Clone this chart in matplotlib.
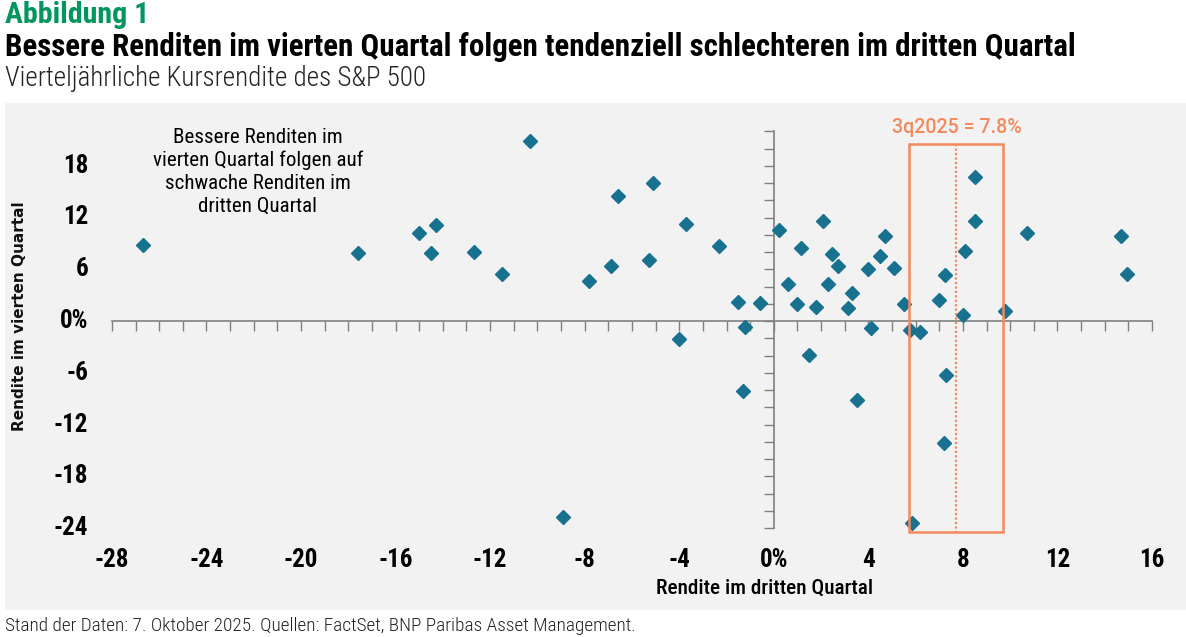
import matplotlib
matplotlib.use('Agg')
import matplotlib.pyplot as plt
from matplotlib.patches import Rectangle
from matplotlib import font_manager as fm

# ---- data ----
q3_returns = [-26.7, -17.6, -15.0, -14.3, -14.5, -12.7, -11.5, -10.3, -8.9, -7.8,
              -6.9, -6.6, -5.3, -5.1, -3.7, -4.0, -2.3, -1.5, -1.2, -1.3,
              -0.6, 0.2, 0.6, 1.15, 1.0, 1.8, 2.1, 2.45, 2.3, 2.7,
              3.15, 3.3, 4.0, 4.5, 4.7, 5.1, 5.5, 4.1, 5.75, 6.2,
              7.0, 7.25, 8.0, 8.1, 8.5, 8.5, 9.8, 10.7, 14.7, 14.95,
              1.5, 3.5, 7.3, 7.2, 5.85]
q4_returns = [8.8, 7.9, 10.2, 11.1, 7.9, 8.0, 5.4, 20.9, -22.7, 4.6,
              6.4, 14.5, 7.1, 16.0, 11.2, -2.1, 8.7, 2.2, -0.7, -8.1,
              2.1, 10.6, 4.3, 8.5, 2.0, 1.6, 11.6, 7.8, 4.3, 6.4,
              1.5, 3.2, 6.0, 7.5, 9.9, 6.1, 2.0, -0.85, -1.0, -1.3,
              2.4, 5.3, 0.7, 8.1, 16.7, 11.6, 1.2, 10.2, 9.9, 5.45,
              -3.9, -9.2, -6.3, -14.1, -23.4]

x_ticks = [-28, -24, -20, -16, -12, -8, -4, 0, 4, 8, 12, 16]
x_tick_labels = ['-28', '-24', '-20', '-16', '-12', '-8', '-4', '0%', '4', '8', '12', '16']
y_ticks = [-24, -18, -12, -6, 0, 6, 12, 18]
y_tick_labels = ['-24', '-18', '-12', '-6', '0%', '6', '12', '18']

current_q3_pos = 7.7
current_label = '3q2025 = 7.8%'
band_x = [5.7, 9.7]
band_y = [-24.5, 20.5]

# ---- pick a condensed font if one is installed ----
fonts = fm.fontManager.ttflist
names = {f.name for f in fonts}
COND_FAMILY = 'DejaVu Sans'
COND_STRETCH = 'normal'
for cand in ['Roboto Condensed', 'Open Sans Condensed', 'Liberation Sans Narrow']:
    if cand in names:
        COND_FAMILY = cand
        break
else:
    for fam in ['Roboto', 'Open Sans', 'Noto Sans', 'DejaVu Sans', 'Liberation Sans']:
        if any(f.name == fam and f.stretch in ('condensed', 'semi-condensed', 'extra-condensed', 75, 87.5)
               for f in fonts):
            COND_FAMILY = fam
            COND_STRETCH = 'condensed'
            break
IS_COND = COND_FAMILY != 'DejaVu Sans' or COND_STRETCH == 'condensed'
SC = 1.0 if IS_COND else 0.85

plt.rcParams['font.family'] = [COND_FAMILY, 'DejaVu Sans']
plt.rcParams['font.stretch'] = COND_STRETCH
PLAIN = ['Roboto', 'DejaVu Sans']

W, H = 1186, 637
fig = plt.figure(figsize=(W / 100, H / 100), dpi=100)
fig.patch.set_facecolor('white')

# gray panel
fig.patches.append(Rectangle((5 / W, (H - 610) / H), (W - 5) / W, (610 - 103) / H,
                             transform=fig.transFigure, facecolor='#f2f2f2',
                             edgecolor='none', zorder=-5))

# pixel mapping used for axes placement
X0, SX = 773.8, 23.64
Y0, SY = 321.0, 8.625
xlim = (-29.5, 17.3)
ylim = (-27.0, 24.0)
left_px = X0 + SX * xlim[0]
right_px = X0 + SX * xlim[1]
top_px = Y0 - SY * ylim[1]
bot_px = Y0 - SY * ylim[0]
ax = fig.add_axes([left_px / W, 1 - bot_px / H, (right_px - left_px) / W, (bot_px - top_px) / H])
ax.set_zorder(2)
ax.set_xlim(*xlim)
ax.set_ylim(*ylim)
ax.patch.set_visible(False)

axis_col = '#808080'
for s in ['top', 'right']:
    ax.spines[s].set_visible(False)
ax.spines['left'].set_position(('data', 0))
ax.spines['bottom'].set_position(('data', 0))
ax.spines['left'].set_bounds(-24, 22)
ax.spines['bottom'].set_bounds(-28, 16)
for s in ['left', 'bottom']:
    ax.spines[s].set_color(axis_col)
    ax.spines[s].set_linewidth(1.2)
ax.set_xticks(list(range(-28, 17)))
ax.set_yticks(list(range(-24, 23, 2)))
ax.tick_params(direction='out', length=7, width=1.0, color=axis_col,
               labelbottom=False, labelleft=False)

# tick labels (placed low / left like the original)
for t, lab in zip(x_ticks, x_tick_labels):
    ax.text(t, -27.7, lab, ha='center', va='center', fontsize=18 * SC, fontweight='bold',
            color='black')
for t, lab in zip(y_ticks, y_tick_labels):
    ax.text(-29.0, t, lab, ha='right', va='center', fontsize=18 * SC, fontweight='bold',
            color='black')

# scatter
ax.plot(q3_returns, q4_returns, linestyle='none', marker='D', ms=7.6,
        color='#17718f', mec='#17718f', zorder=3, clip_on=False)

# highlight band
orange = '#f28a5e'
ax.add_patch(Rectangle((band_x[0], band_y[0]), band_x[1] - band_x[0], band_y[1] - band_y[0],
                       fill=False, edgecolor=orange, linewidth=1.8, clip_on=False, zorder=4))
ax.plot([current_q3_pos, current_q3_pos], [band_y[0] - 0.1, band_y[1]], linestyle=(0, (1, 1)),
        color=orange, linewidth=1.6, zorder=4, clip_on=False)
lab3q = ax.text(current_q3_pos + 0.05, 22.4, current_label, ha='center', va='center',
                fontsize=15, fontweight='medium', color=orange, family=PLAIN,
                fontstretch='normal')

# annotation
annot = fig.text(258 / W, 1 - 172 / H,
                 'Bessere Renditen im\nvierten Quartal folgen auf\nschwache Renditen im\ndritten Quartal',
                 ha='center', va='center', fontsize=14, linespacing=1.25, color='black',
                 fontweight='normal')

# axis titles
xlab = fig.text(765 / W, 1 - 588 / H, 'Rendite im dritten Quartal', ha='center', va='center',
                fontsize=14, fontweight='medium', color='black')
ylab = fig.text(20 / W, 1 - 316 / H, 'Rendite im vierten Quartal', ha='center', va='center',
                rotation=90, fontsize=11, fontweight='bold', color='#111111',
                family=['DejaVu Sans'], fontstretch='normal')

# titles
abb = fig.text(5 / W, 1 - 15 / H, 'Abbildung 1', ha='left', va='center', fontsize=21,
               fontweight='bold', color='#00965e')
title = fig.text(5 / W, 1 - 47 / H,
                 'Bessere Renditen im vierten Quartal folgen tendenziell schlechteren im dritten Quartal',
                 ha='left', va='center', fontsize=18, fontweight='bold', color='black')
sub = fig.text(5 / W, 1 - 79 / H, 'Vierteljährliche Kursrendite des S&P 500', ha='left',
               va='center', fontsize=17, fontweight='light', color='#222222')
foot = fig.text(5 / W, 1 - 626 / H,
                'Stand der Daten: 7. Oktober 2025. Quellen: FactSet, BNP Paribas Asset Management.',
                ha='left', va='center', fontsize=12, fontweight='light', color='#222222')

# fit text widths to the reference
renderer = fig.canvas.get_renderer()
for txt, target, horizontal in [(title, 1070, True), (foot, 630, True), (sub, 422, True),
                                (abb, 145, True), (xlab, 218, True), (annot, 212, True),
                                (lab3q, 130, True), (ylab, 230, False)]:
    bb = txt.get_window_extent(renderer)
    w = bb.width if horizontal else bb.height
    txt.set_fontsize(txt.get_fontsize() * target / w)

fig.savefig('out.png', dpi=100)
